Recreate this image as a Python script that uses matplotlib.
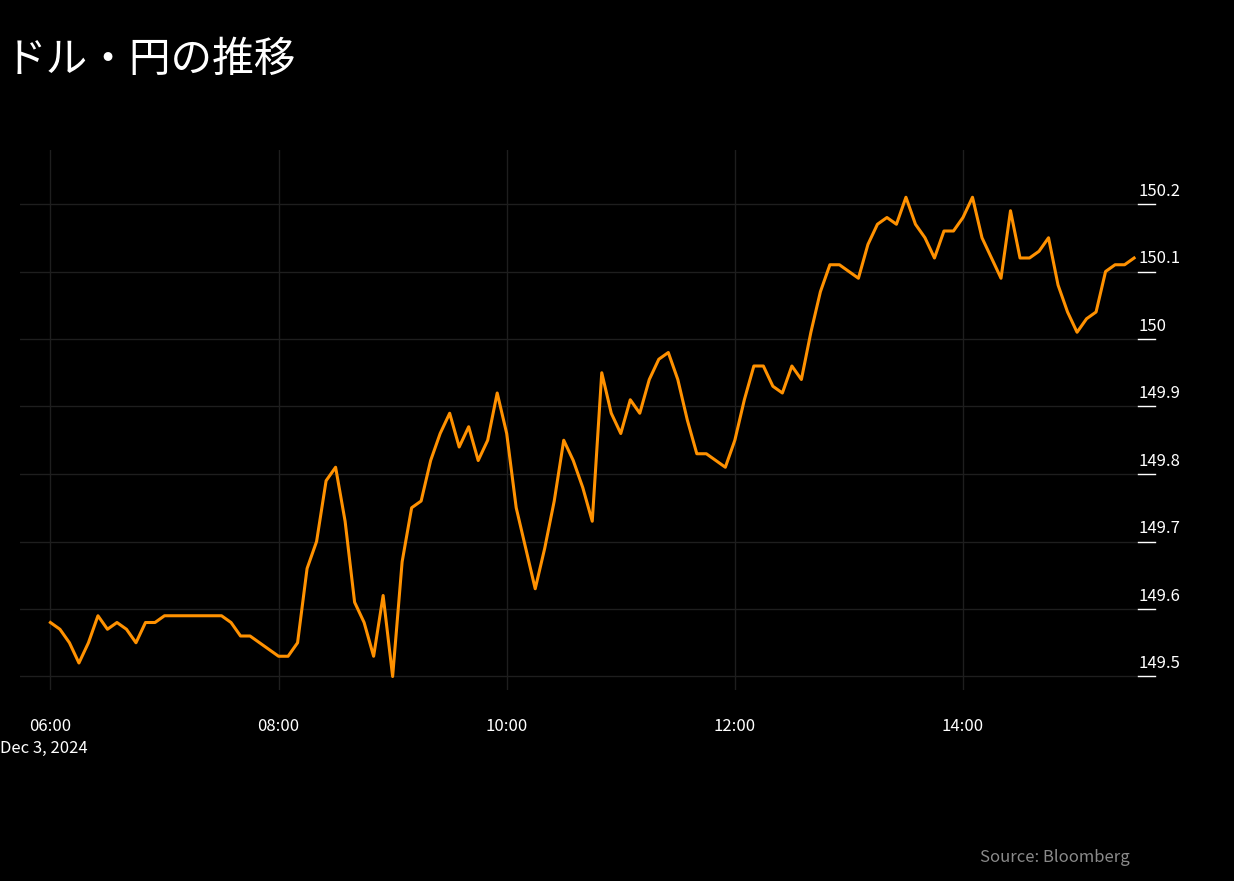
import matplotlib
matplotlib.use("Agg")
import matplotlib.pyplot as plt
import pandas as pd

plt.rcParams['font.family'] = ['Noto Sans CJK JP', 'DejaVu Sans']

start = "2024-12-03 06:00"
values = [149.58,149.57,149.55,149.52,149.55,149.59,149.57,149.58,149.57,149.55,
          149.58,149.58,149.59,149.59,149.59,149.59,149.59,149.59,149.59,149.58,
          149.56,149.56,149.55,149.54,149.53,149.53,149.55,149.66,149.70,149.79,
          149.81,149.73,149.61,149.58,149.53,149.62,149.50,149.67,149.75,149.76,
          149.82,149.86,149.89,149.84,149.87,149.82,149.85,149.92,149.86,149.75,
          149.69,149.63,149.69,149.76,149.85,149.82,149.78,149.73,149.95,149.89,
          149.86,149.91,149.89,149.94,149.97,149.98,149.94,149.88,149.83,149.83,
          149.82,149.81,149.85,149.91,149.96,149.96,149.93,149.92,149.96,149.94,
          150.01,150.07,150.11,150.11,150.10,150.09,150.14,150.17,150.18,150.17,
          150.21,150.17,150.15,150.12,150.16,150.16,150.18,150.21,150.15,150.12,
          150.09,150.19,150.12,150.12,150.13,150.15,150.08,150.04,150.01,150.03,
          150.04,150.10,150.11,150.11,150.12]
times = pd.date_range(start, periods=len(values), freq="5min")
yticks = [149.5,149.6,149.7,149.8,149.9,150.0,150.1,150.2]
ylabels = ["149.5","149.6","149.7","149.8","149.9","150","150.1","150.2"]
xticks = pd.to_datetime(["2024-12-03 06:00","2024-12-03 08:00","2024-12-03 10:00",
                         "2024-12-03 12:00","2024-12-03 14:00"])

fig = plt.figure(figsize=(12.34, 8.81), dpi=100, facecolor="black")
ax = fig.add_axes([20/1234, 1-690/881, 1135/1234, 540/881], facecolor="black")
ax.plot(times, values, color="#ff9100", lw=2.2)
ax.set_xlim(pd.Timestamp("2024-12-03 05:44"), pd.Timestamp("2024-12-03 15:41"))
ax.set_ylim(149.48, 150.28)
for s in ax.spines.values():
    s.set_visible(False)
ax.set_yticks(yticks)
ax.set_yticklabels([])
ax.tick_params(axis="y", length=0)
ax.set_xticks(xticks)
ax.set_xticklabels([t.strftime("%H:%M") for t in xticks], color="white", fontsize=12)
ax.tick_params(axis="x", length=0, pad=20)
ax.grid(True, color="#1e1e1e", lw=1)
for v, l in zip(yticks, ylabels):
    ax.annotate(l, xy=(1.0, v), xycoords=("axes fraction", "data"),
                xytext=(-12, 3), textcoords="offset points",
                color="white", fontsize=12, ha="left", va="bottom")
    ax.plot([0.985, 1.0], [v, v], transform=ax.get_yaxis_transform(),
            color="white", lw=1, clip_on=False)
fig.text(0, 1-748/881, "Dec 3, 2024", color="white", fontsize=12, va="center", ha="left")
fig.text(5/1234, 1-60/881, "ドル・円の推移", color="white", fontsize=30, va="center", ha="left")
fig.text(1130/1234, 1-857/881, "Source: Bloomberg", color="#8a8a8a", fontsize=12,
         va="center", ha="right")
fig.savefig("out.png", dpi=100, facecolor="black")
